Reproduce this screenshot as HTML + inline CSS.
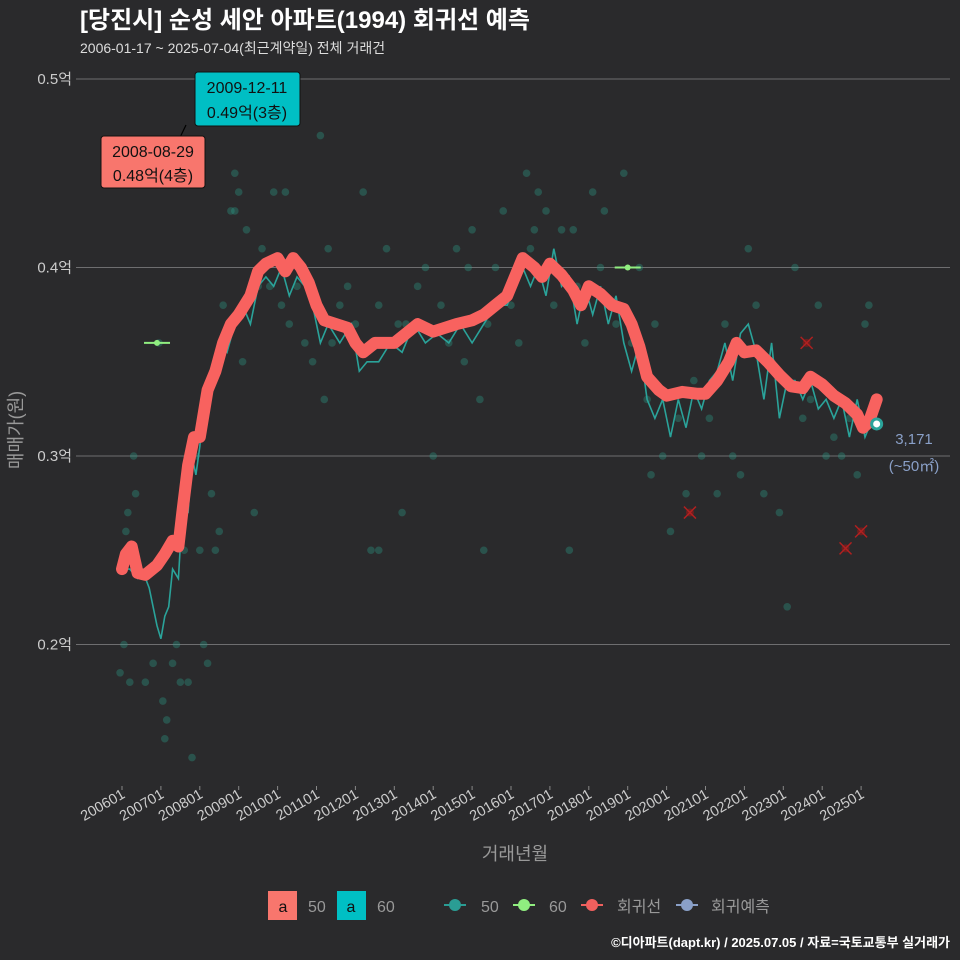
<!DOCTYPE html>
<html><head><meta charset="utf-8"><style>
body{margin:0;background:#2a2a2c;}
svg{display:block;font-family:"Liberation Sans","Noto Sans CJK KR",sans-serif;}
</style></head><body>
<svg id="c" width="960" height="960" viewBox="0 0 960 960">
<rect width="960" height="960" fill="#2a2a2c"/>
<text x="80" y="28" font-size="24" font-weight="bold" fill="#fff">[당진시] 순성 세안 아파트(1994) 회귀선 예측</text>
<text x="80" y="53" font-size="14" fill="#ddd">2006-01-17 ~ 2025-07-04(최근계약일) 전체 거래건</text>
<g id="grid"></g>
<g id="xt"></g>
<g id="pts"></g>
<g id="lines"></g>
<text x="515" y="860" font-size="18" fill="#999" text-anchor="middle">거래년월</text>
<text transform="translate(22,430) rotate(-90)" font-size="18" fill="#999" text-anchor="middle">매매가(원)</text>
<line x1="173" y1="152" x2="186" y2="125" stroke="#000" stroke-width="1.2"/>
<g><rect x="195" y="72" width="105" height="54" rx="3" fill="#00bfc4" stroke="#111"/>
<text x="247" y="93" font-size="16" text-anchor="middle" fill="#111">2009-12-11</text><text x="247" y="118" font-size="16" text-anchor="middle" fill="#111">0.49억(3층)</text></g>
<g><rect x="101" y="136" width="104" height="52" rx="3" fill="#f8766d" stroke="#111"/>
<text x="153" y="157" font-size="16" text-anchor="middle" fill="#111">2008-08-29</text><text x="153" y="181" font-size="16" text-anchor="middle" fill="#111">0.48억(4층)</text></g>
<text x="914" y="444" font-size="15" fill="#8aa0c8" text-anchor="middle">3,171</text>
<text x="914" y="471" font-size="15" fill="#8aa0c8" text-anchor="middle">(~50㎡)</text>
<g>
<g><rect x="268" y="891" width="29" height="29" fill="#f8766d"/><text x="283" y="912" font-size="16" text-anchor="middle" fill="#111">a</text><text x="308" y="912" font-size="16" fill="#999">50</text></g>
<g><rect x="337" y="891" width="29" height="29" fill="#00bfc4"/><text x="351" y="912" font-size="16" text-anchor="middle" fill="#111">a</text><text x="377" y="912" font-size="16" fill="#999">60</text></g>
<g><line x1="444" y1="905" x2="466" y2="905" stroke="#2a9d94" stroke-width="2"/><circle cx="455" cy="905" r="6" fill="#2a9d94"/><text x="481" y="912" font-size="16" fill="#999">50</text></g>
<g><line x1="513" y1="905" x2="535" y2="905" stroke="#90ee80" stroke-width="2"/><circle cx="524" cy="905" r="6" fill="#90ee80"/><text x="549" y="912" font-size="16" fill="#999">60</text></g>
<g><line x1="581" y1="905" x2="603" y2="905" stroke="#f0605e" stroke-width="2"/><circle cx="592" cy="905" r="6" fill="#f0605e"/><text x="617" y="912" font-size="16" fill="#999">회귀선</text></g>
<g><line x1="676" y1="905" x2="698" y2="905" stroke="#8aa0c8" stroke-width="2"/><circle cx="687" cy="905" r="6" fill="#8aa0c8"/><text x="711" y="912" font-size="16" fill="#999">회귀예측</text></g>
</g>
<text x="950" y="947" font-size="13" font-weight="bold" fill="#fff" text-anchor="end">©디아파트(dapt.kr) / 2025.07.05 / 자료=국토교통부 실거래가</text>
</svg>
<script>
const yTicks=[0.2,0.3,0.4,0.5];
const xTickYears=[2006,2007,2008,2009,2010,2011,2012,2013,2014,2015,2016,2017,2018,2019,2020,2021,2022,2023,2024,2025];
const regT=[2006.0,2006.1,2006.25,2006.4,2006.6,2006.9,2007.1,2007.3,2007.45,2007.55,2007.7,2007.85,2008.0,2008.2,2008.4,2008.6,2008.8,2009.0,2009.3,2009.5,2009.7,2010.0,2010.2,2010.4,2010.6,2010.8,2011.0,2011.2,2011.5,2011.8,2012.0,2012.2,2012.5,2012.8,2013.0,2013.3,2013.6,2014.0,2014.3,2014.6,2015.0,2015.3,2015.6,2015.9,2016.1,2016.3,2016.6,2016.8,2017.0,2017.3,2017.6,2017.8,2018.0,2018.3,2018.6,2018.9,2019.1,2019.3,2019.5,2019.8,2020.0,2020.4,2020.8,2021.0,2021.3,2021.6,2021.8,2022.0,2022.3,2022.6,2022.9,2023.2,2023.5,2023.7,2024.0,2024.3,2024.6,2024.9,2025.05,2025.2,2025.4];
const regV=[0.24,0.248,0.252,0.238,0.237,0.242,0.248,0.255,0.252,0.27,0.295,0.31,0.31,0.335,0.345,0.36,0.37,0.375,0.385,0.398,0.402,0.405,0.398,0.405,0.4,0.392,0.38,0.372,0.37,0.368,0.36,0.355,0.36,0.36,0.36,0.365,0.37,0.366,0.368,0.37,0.372,0.375,0.38,0.385,0.395,0.405,0.4,0.395,0.402,0.396,0.388,0.38,0.39,0.386,0.38,0.378,0.37,0.358,0.342,0.335,0.332,0.334,0.333,0.333,0.34,0.35,0.36,0.355,0.356,0.35,0.343,0.337,0.336,0.342,0.338,0.332,0.328,0.322,0.315,0.318,0.33];
const avgT=[2006.0,2006.2,2006.4,2006.55,2006.7,2006.9,2007.0,2007.1,2007.2,2007.3,2007.45,2007.55,2007.7,2007.8,2007.9,2008.0,2008.1,2008.3,2008.5,2008.7,2008.9,2009.1,2009.3,2009.5,2009.7,2009.9,2010.1,2010.3,2010.5,2010.7,2010.9,2011.1,2011.3,2011.6,2011.9,2012.1,2012.3,2012.6,2012.9,2013.2,2013.5,2013.8,2014.1,2014.4,2014.7,2015.0,2015.3,2015.6,2015.9,2016.1,2016.3,2016.5,2016.7,2016.9,2017.1,2017.3,2017.5,2017.7,2017.9,2018.1,2018.3,2018.5,2018.7,2018.9,2019.1,2019.3,2019.5,2019.7,2019.9,2020.1,2020.3,2020.5,2020.7,2020.9,2021.1,2021.3,2021.5,2021.7,2021.9,2022.1,2022.3,2022.5,2022.7,2022.9,2023.1,2023.3,2023.5,2023.7,2023.9,2024.1,2024.3,2024.5,2024.7,2024.9,2025.1,2025.3];
const avgV=[0.24,0.24,0.235,0.238,0.23,0.21,0.203,0.215,0.22,0.24,0.235,0.27,0.27,0.3,0.29,0.305,0.33,0.34,0.36,0.355,0.37,0.38,0.37,0.39,0.395,0.39,0.4,0.385,0.395,0.39,0.38,0.36,0.37,0.36,0.37,0.345,0.35,0.35,0.36,0.355,0.37,0.36,0.365,0.36,0.37,0.36,0.37,0.38,0.38,0.39,0.4,0.39,0.4,0.385,0.41,0.39,0.395,0.37,0.39,0.375,0.39,0.37,0.385,0.36,0.345,0.36,0.33,0.32,0.33,0.31,0.33,0.315,0.335,0.325,0.34,0.345,0.36,0.34,0.365,0.37,0.355,0.33,0.36,0.32,0.34,0.34,0.33,0.34,0.325,0.33,0.32,0.33,0.31,0.33,0.31,0.32];
const ptT=[2005.95,2006.05,2006.1,2006.15,2006.2,2006.3,2006.35,2006.6,2006.7,2006.8,2006.95,2007.05,2007.1,2007.15,2007.3,2007.4,2007.5,2007.6,2007.7,2007.8,2007.9,2008.0,2008.1,2008.2,2008.3,2008.4,2008.5,2008.6,2008.8,2008.9,2009.0,2009.1,2009.2,2009.4,2009.6,2009.8,2009.9,2010.1,2010.3,2010.5,2010.7,2010.9,2011.1,2011.3,2011.4,2011.6,2011.8,2012.0,2012.2,2012.4,2012.6,2012.8,2013.0,2013.2,2013.3,2013.6,2013.8,2014.0,2014.2,2014.4,2014.6,2014.8,2015.0,2015.2,2015.4,2015.6,2015.8,2016.0,2016.2,2016.4,2016.6,2016.7,2016.9,2017.1,2017.3,2017.5,2017.7,2017.9,2018.1,2018.3,2018.5,2018.7,2018.9,2019.1,2019.3,2019.5,2019.7,2019.9,2020.1,2020.3,2020.5,2020.7,2020.9,2021.1,2021.3,2021.5,2021.7,2021.9,2022.1,2022.3,2022.5,2022.7,2022.9,2023.1,2023.3,2023.5,2023.7,2023.9,2024.1,2024.3,2024.5,2024.7,2024.9,2025.1,2025.2,2008.9,2009.5,2010.2,2011.2,2013.1,2014.9,2016.5,2017.6,2018.4,2012.6,2015.3,2019.6];
const ptV=[0.185,0.2,0.26,0.27,0.18,0.3,0.28,0.18,0.24,0.19,0.36,0.17,0.15,0.16,0.19,0.2,0.18,0.25,0.18,0.14,0.3,0.25,0.2,0.19,0.28,0.25,0.26,0.38,0.43,0.45,0.44,0.35,0.42,0.27,0.41,0.39,0.44,0.38,0.37,0.39,0.36,0.35,0.47,0.41,0.36,0.38,0.39,0.37,0.44,0.25,0.38,0.41,0.36,0.27,0.37,0.39,0.4,0.3,0.38,0.36,0.41,0.35,0.42,0.33,0.37,0.4,0.43,0.38,0.36,0.45,0.42,0.44,0.43,0.38,0.42,0.25,0.39,0.36,0.44,0.4,0.38,0.37,0.45,0.36,0.4,0.33,0.37,0.3,0.26,0.32,0.28,0.34,0.3,0.32,0.28,0.37,0.3,0.29,0.41,0.38,0.28,0.35,0.27,0.22,0.4,0.32,0.33,0.38,0.3,0.31,0.3,0.32,0.29,0.37,0.38,0.43,0.39,0.44,0.33,0.37,0.4,0.41,0.42,0.43,0.25,0.25,0.29,0.42];
const grnT=[2006.9,2019.0];
const grnV=[0.36,0.40];
const xT=[2020.6,2023.6,2024.6,2025.0];
const xV=[0.27,0.36,0.251,0.26];
const endT=[2025.4];const endV=[0.317];

const NS="http://www.w3.org/2000/svg";
const X=t=>122+(t-2006)*38.9;
const Y=v=>79+(0.5-v)*1885;
function mk(tag,attrs,parent){const e=document.createElementNS(NS,tag);for(const k in attrs)e.setAttribute(k,attrs[k]);parent.appendChild(e);return e;}
const grid=document.getElementById('grid'),xt=document.getElementById('xt'),pts=document.getElementById('pts'),lines=document.getElementById('lines');
yTicks.forEach(v=>{
 const l=mk('line',{x1:76,x2:950,y1:Y(v),y2:Y(v),stroke:'#6e6e70','stroke-width':1},grid);
 
 
 const t=mk('text',{x:72,y:Y(v)+5,'font-size':15,fill:'#ccc','text-anchor':'end'},grid);
 t.textContent=v.toFixed(1)+'억';
 
 
});
xTickYears.forEach(yr=>{
 const x=X(yr);
 mk('line',{x1:x,x2:x,y1:786,y2:790,stroke:'#888'},xt);
 const t=mk('text',{transform:`translate(${x+4},${797}) rotate(-30)`,'font-size':14.5,fill:'#ccc','text-anchor':'end'},xt);
 t.textContent=yr+'01';
 
 
});
ptT.forEach((t,i)=>{
 const c=mk('circle',{cx:X(t),cy:Y(ptV[i]),r:3.8,fill:'#2a9d8a','fill-opacity':0.35},pts);
 
 
});
grnT.forEach((t,i)=>{
 mk('line',{x1:X(t)-13,x2:X(t)+13,y1:Y(grnV[i]),y2:Y(grnV[i]),stroke:'#90ee80','stroke-width':2},pts);
 const c=mk('circle',{cx:X(t),cy:Y(grnV[i]),r:3,fill:'#90ee80'},pts);
 
 
});
const path=(T,V)=>T.map((t,i)=>(i?'L':'M')+X(t).toFixed(1)+','+Y(V[i]).toFixed(1)).join('');
const al=mk('path',{d:path(avgT,avgV),fill:'none',stroke:'#2aa39a','stroke-width':1.6},lines);


const rl=mk('path',{d:path(regT,regV),fill:'none',stroke:'#f8625f','stroke-width':12,'stroke-linejoin':'round','stroke-linecap':'round'},lines);


xT.forEach((t,i)=>{
 const x=X(t),y=Y(xV[i]);
 const g=mk('g',{},lines);
 
 
 mk('circle',{cx:x,cy:y,r:4,fill:'#8b1a1a','fill-opacity':0.7},g);
 mk('path',{d:`M${x-6},${y-6}L${x+6},${y+6}M${x-6},${y+6}L${x+6},${y-6}`,stroke:'#b02020','stroke-width':1.5},g);
});
endT.forEach((t,i)=>{
 const c=mk('circle',{cx:X(t),cy:Y(endV[i]),r:5,fill:'#fff',stroke:'#2aa39a','stroke-width':3},lines);
 
 
});
</script>
</body></html>
